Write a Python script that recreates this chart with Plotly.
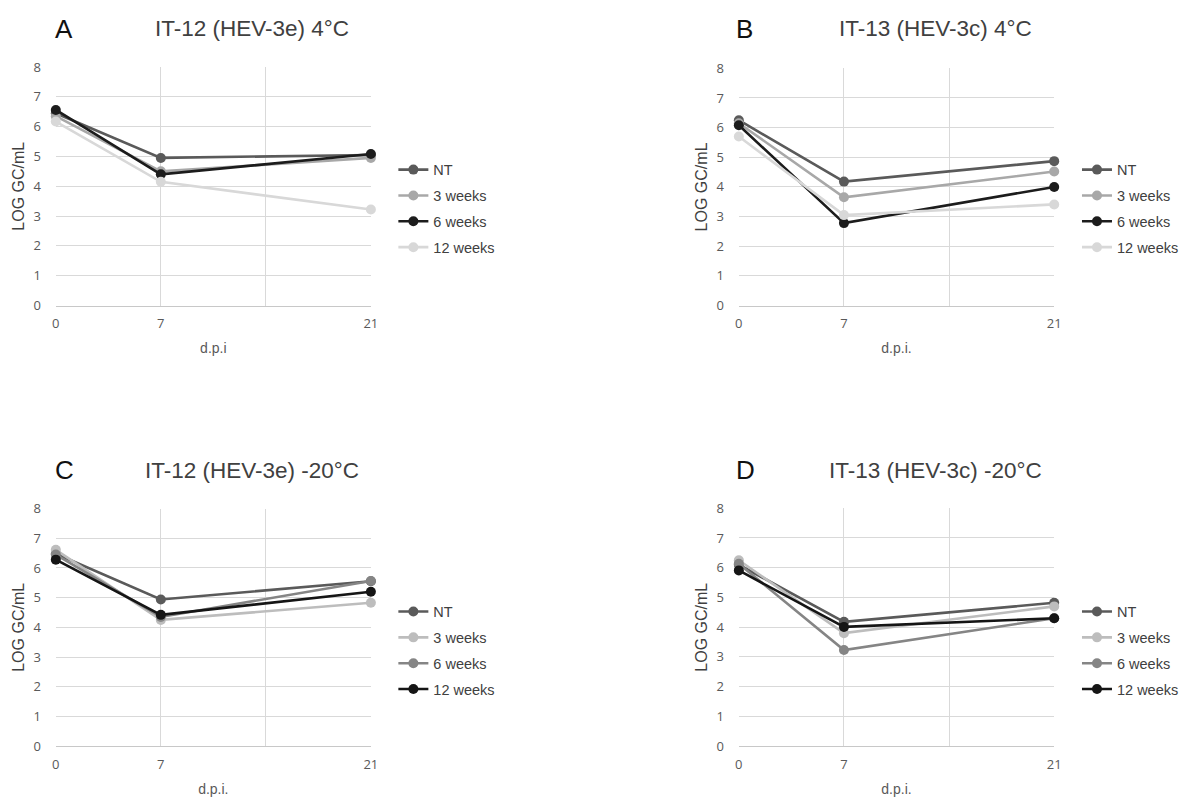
import plotly.graph_objects as go

# Days post inoculation and the tick labels shown on the x axis
days = [0, 7, 21]
x_tickvals = [0, 7, 14, 21]
x_ticktext = ["0", "7", "", "21"]
y_tickvals = [0, 1, 2, 3, 4, 5, 6, 7, 8]

series_names = ["NT", "3 weeks", "6 weeks", "12 weeks"]

# Panel A: IT-12 (HEV-3e) at 4°C
a_nt = [6.45, 4.95, 5.05]
a_3w = [6.35, 4.50, 4.95]
a_6w = [6.56, 4.40, 5.08]
a_12w = [6.17, 4.15, 3.22]

# Panel B: IT-13 (HEV-3c) at 4°C
b_nt = [6.25, 4.18, 4.87]
b_3w = [6.15, 3.65, 4.52]
b_6w = [6.08, 2.78, 4.00]
b_12w = [5.70, 3.05, 3.41]

# Panel C: IT-12 (HEV-3e) at -20°C
c_nt = [6.48, 4.94, 5.55]
c_3w = [6.61, 4.25, 4.83]
c_6w = [6.45, 4.35, 5.56]
c_12w = [6.28, 4.42, 5.20]

# Panel D: IT-13 (HEV-3c) at -20°C
d_nt = [6.10, 4.18, 4.82]
d_3w = [6.25, 3.80, 4.70]
d_6w = [6.13, 3.23, 4.30]
d_12w = [5.91, 4.01, 4.30]

colors_4c = ["#5a5a5a", "#a8a8a8", "#1c1c1c", "#d8d8d8"]
colors_20c = ["#5a5a5a", "#bdbdbd", "#858585", "#151515"]

panels = [
    dict(letter="A", title="IT-12 (HEV-3e) 4°C", xlab="d.p.i",
         data=[a_nt, a_3w, a_6w, a_12w], colors=colors_4c),
    dict(letter="B", title="IT-13 (HEV-3c) 4°C", xlab="d.p.i.",
         data=[b_nt, b_3w, b_6w, b_12w], colors=colors_4c),
    dict(letter="C", title="IT-12 (HEV-3e) -20°C", xlab="d.p.i.",
         data=[c_nt, c_3w, c_6w, c_12w], colors=colors_20c),
    dict(letter="D", title="IT-13 (HEV-3c) -20°C", xlab="d.p.i.",
         data=[d_nt, d_3w, d_6w, d_12w], colors=colors_20c),
]

W, H = 1189, 804
# pixel boxes of plot areas: (left, right, top, bottom)
boxes = [
    (52.3, 370.3, 59.3, 303.3),
    (741.7, 1060.0, 60.7, 303.3),
    (52.3, 370.3, 511.0, 754.0),
    (741.7, 1060.0, 510.7, 754.0),
]
legend_pos = [(393, 148), (1083, 148), (393, 600), (1083, 600)]
title_pos = [(49, 250, 20), (737, 940, 20), (49, 250, 472), (737, 940, 472)]

TICK_FONT = dict(family="Open Sans", size=13, color="#595959")
TEXT_FONT = "Liberation Sans"
GRID = "#d9d9d9"

fig = go.Figure()
layout = dict(
    width=W, height=H,
    margin=dict(l=0, r=0, t=0, b=0),
    paper_bgcolor="white", plot_bgcolor="white",
    showlegend=True,
)
annotations = []

for i, p in enumerate(panels):
    k = i + 1
    xa = "x" if k == 1 else f"x{k}"
    ya = "y" if k == 1 else f"y{k}"
    leg = "legend" if k == 1 else f"legend{k}"
    for name, vals, col in zip(series_names, p["data"], p["colors"]):
        fig.add_trace(go.Scatter(
            x=days, y=vals, name=name, mode="lines+markers",
            line=dict(color=col, width=2.6),
            marker=dict(color=col, size=10),
            xaxis=xa, yaxis=ya, legend=leg,
            legendgroup=f"{p['letter']}-{name}",
            cliponaxis=False,
        ))
    l, r, t, b = boxes[i]
    layout["xaxis" if k == 1 else f"xaxis{k}"] = dict(
        domain=[l / W, r / W], range=[0, 21], anchor=ya,
        tickvals=x_tickvals, ticktext=x_ticktext,
        showgrid=True, gridcolor=GRID, gridwidth=1,
        showline=True, linecolor="#c8c8c8", linewidth=1,
        zeroline=False, ticks="", ticklabelstandoff=6,
        tickfont=TICK_FONT,
        title=dict(text=p["xlab"], font=dict(family=TEXT_FONT, size=14, color="#595959"),
                   standoff=12),
    )
    layout["yaxis" if k == 1 else f"yaxis{k}"] = dict(
        domain=[1 - b / H, 1 - t / H], range=[0, 8], anchor=xa,
        tickvals=y_tickvals,
        showgrid=True, gridcolor=GRID, gridwidth=1,
        showline=False, zeroline=False, ticks="", ticklabelstandoff=14,
        tickfont=TICK_FONT,
        title=dict(text="LOG GC/mL", font=dict(family=TEXT_FONT, size=16, color="#404040"),
                   standoff=4),
    )
    lx, ly = legend_pos[i]
    layout[leg] = dict(
        x=lx / W, y=1 - ly / H, xanchor="left", yanchor="top",
        font=dict(family=TEXT_FONT, size=14.5, color="#404040"),
        bgcolor="rgba(0,0,0,0)", tracegroupgap=4, itemwidth=30,
    )
    lx0, tcx, ty = title_pos[i]
    annotations.append(dict(
        x=lx0 / W, y=1 - ty / H, xref="paper", yref="paper",
        xanchor="left", yanchor="middle", showarrow=False,
        text=p["letter"], font=dict(family=TEXT_FONT, size=26, color="#111111"),
    ))
    annotations.append(dict(
        x=tcx / W, y=1 - ty / H, xref="paper", yref="paper",
        xanchor="center", yanchor="middle", showarrow=False,
        text=p["title"], font=dict(family=TEXT_FONT, size=22.5, color="#404040"),
    ))

layout["annotations"] = annotations
fig.update_layout(**layout)
fig.write_html("out.html")
